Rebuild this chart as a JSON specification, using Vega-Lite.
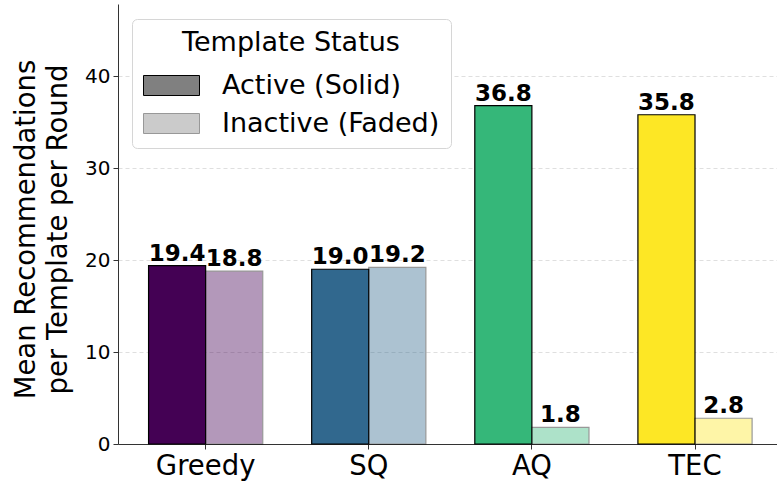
{
  "$schema": "https://vega.github.io/schema/vega-lite/v6.json",
  "width": 659,
  "height": 440,
  "autosize": "none",
  "padding": {"left": 118, "top": 4, "right": 0, "bottom": 38},
  "background": "white",
  "config": {
    "font": "DejaVu Sans",
    "view": {"stroke": null},
    "axis": {"labelFont": "DejaVu Sans", "titleFont": "DejaVu Sans"},
    "legend": {"labelFont": "DejaVu Sans", "titleFont": "DejaVu Sans"}
  },
  "data": {
    "values": [
      {"method": "Greedy", "status": "Active (Solid)", "value": 19.4},
      {"method": "Greedy", "status": "Inactive (Faded)", "value": 18.8},
      {"method": "SQ", "status": "Active (Solid)", "value": 19.0},
      {"method": "SQ", "status": "Inactive (Faded)", "value": 19.2},
      {"method": "AQ", "status": "Active (Solid)", "value": 36.8},
      {"method": "AQ", "status": "Inactive (Faded)", "value": 1.8},
      {"method": "TEC", "status": "Active (Solid)", "value": 35.8},
      {"method": "TEC", "status": "Inactive (Faded)", "value": 2.8}
    ]
  },
  "encoding": {
    "x": {
      "field": "method",
      "type": "nominal",
      "sort": ["Greedy", "SQ", "AQ", "TEC"],
      "scale": {"paddingInner": 0.3, "paddingOuter": 0.17, "align": 0.551},
      "axis": {
        "title": null,
        "labelAngle": 0,
        "labelFontSize": 27.5,
        "labelColor": "black",
        "domainColor": "#333333",
        "domainWidth": 1,
        "tickColor": "#333333",
        "tickSize": 5,
        "labelPadding": 3,
        "grid": false
      }
    },
    "xOffset": {
      "field": "status",
      "type": "nominal",
      "sort": ["Active (Solid)", "Inactive (Faded)"],
      "scale": {"paddingInner": 0, "paddingOuter": 0}
    },
    "y": {
      "field": "value",
      "type": "quantitative",
      "scale": {"domain": [0, 47.84], "nice": false, "zero": true},
      "axis": {
        "values": [0, 10, 20, 30, 40],
        "title": ["Mean Recommendations", "per Template per Round"],
        "titleFontSize": 27.5,
        "titleFontWeight": "normal",
        "titleColor": "black",
        "titleAngle": -90,
        "titleBaseline": "middle",
        "titleAlign": "center",
        "titleX": -92,
        "titleY": 225,
        "titleLineHeight": 32,
        "titleLimit": 600,
        "labelFontSize": 20,
        "labelColor": "black",
        "labelPadding": 3,
        "tickSize": 5,
        "tickColor": "#333333",
        "domainColor": "#333333",
        "grid": true,
        "gridDash": [4, 3],
        "gridColor": "#b0b0b0",
        "gridOpacity": 0.5,
        "gridWidth": 0.8
      }
    }
  },
  "layer": [
    {
      "mark": {"type": "bar", "stroke": "black", "strokeWidth": 1.2},
      "encoding": {
        "fill": {
          "field": "method",
          "type": "nominal",
          "scale": {"domain": ["Greedy", "SQ", "AQ", "TEC"], "range": ["#440154", "#31688e", "#35b779", "#fde725"]},
          "legend": null
        },
        "opacity": {
          "field": "status",
          "type": "nominal",
          "scale": {"domain": ["Active (Solid)", "Inactive (Faded)"], "range": [1, 0.4]},
          "legend": {
            "orient": "none",
            "legendX": 14,
            "legendY": 15,
            "title": "Template Status",
            "titleFontSize": 27,
            "titleFontWeight": "normal",
            "titleColor": "black",
            "titleAnchor": "middle",
            "titleAlign": "center",
            "titlePadding": 8,
            "titleLimit": 500,
            "labelFontSize": 27,
            "labelLimit": 500,
            "labelColor": "black",
            "symbolType": "M-1.4,-0.5H1.4V0.5H-1.4Z",
            "symbolSize": 1600,
            "symbolFillColor": "#808080",
            "symbolStrokeColor": "black",
            "symbolStrokeWidth": 1,
            "symbolOffset": 8,
            "labelOffset": 30,
            "rowPadding": 4,
            "padding": 11,
            "fillColor": "white",
            "strokeColor": "#d6d6d6",
            "cornerRadius": 5
          }
        }
      }
    },
    {
      "mark": {"type": "text", "fontWeight": "bold", "fontSize": 23, "baseline": "alphabetic", "dy": -5, "color": "black"},
      "encoding": {
        "text": {"field": "value", "type": "quantitative", "format": ".1f"}
      }
    }
  ]
}
